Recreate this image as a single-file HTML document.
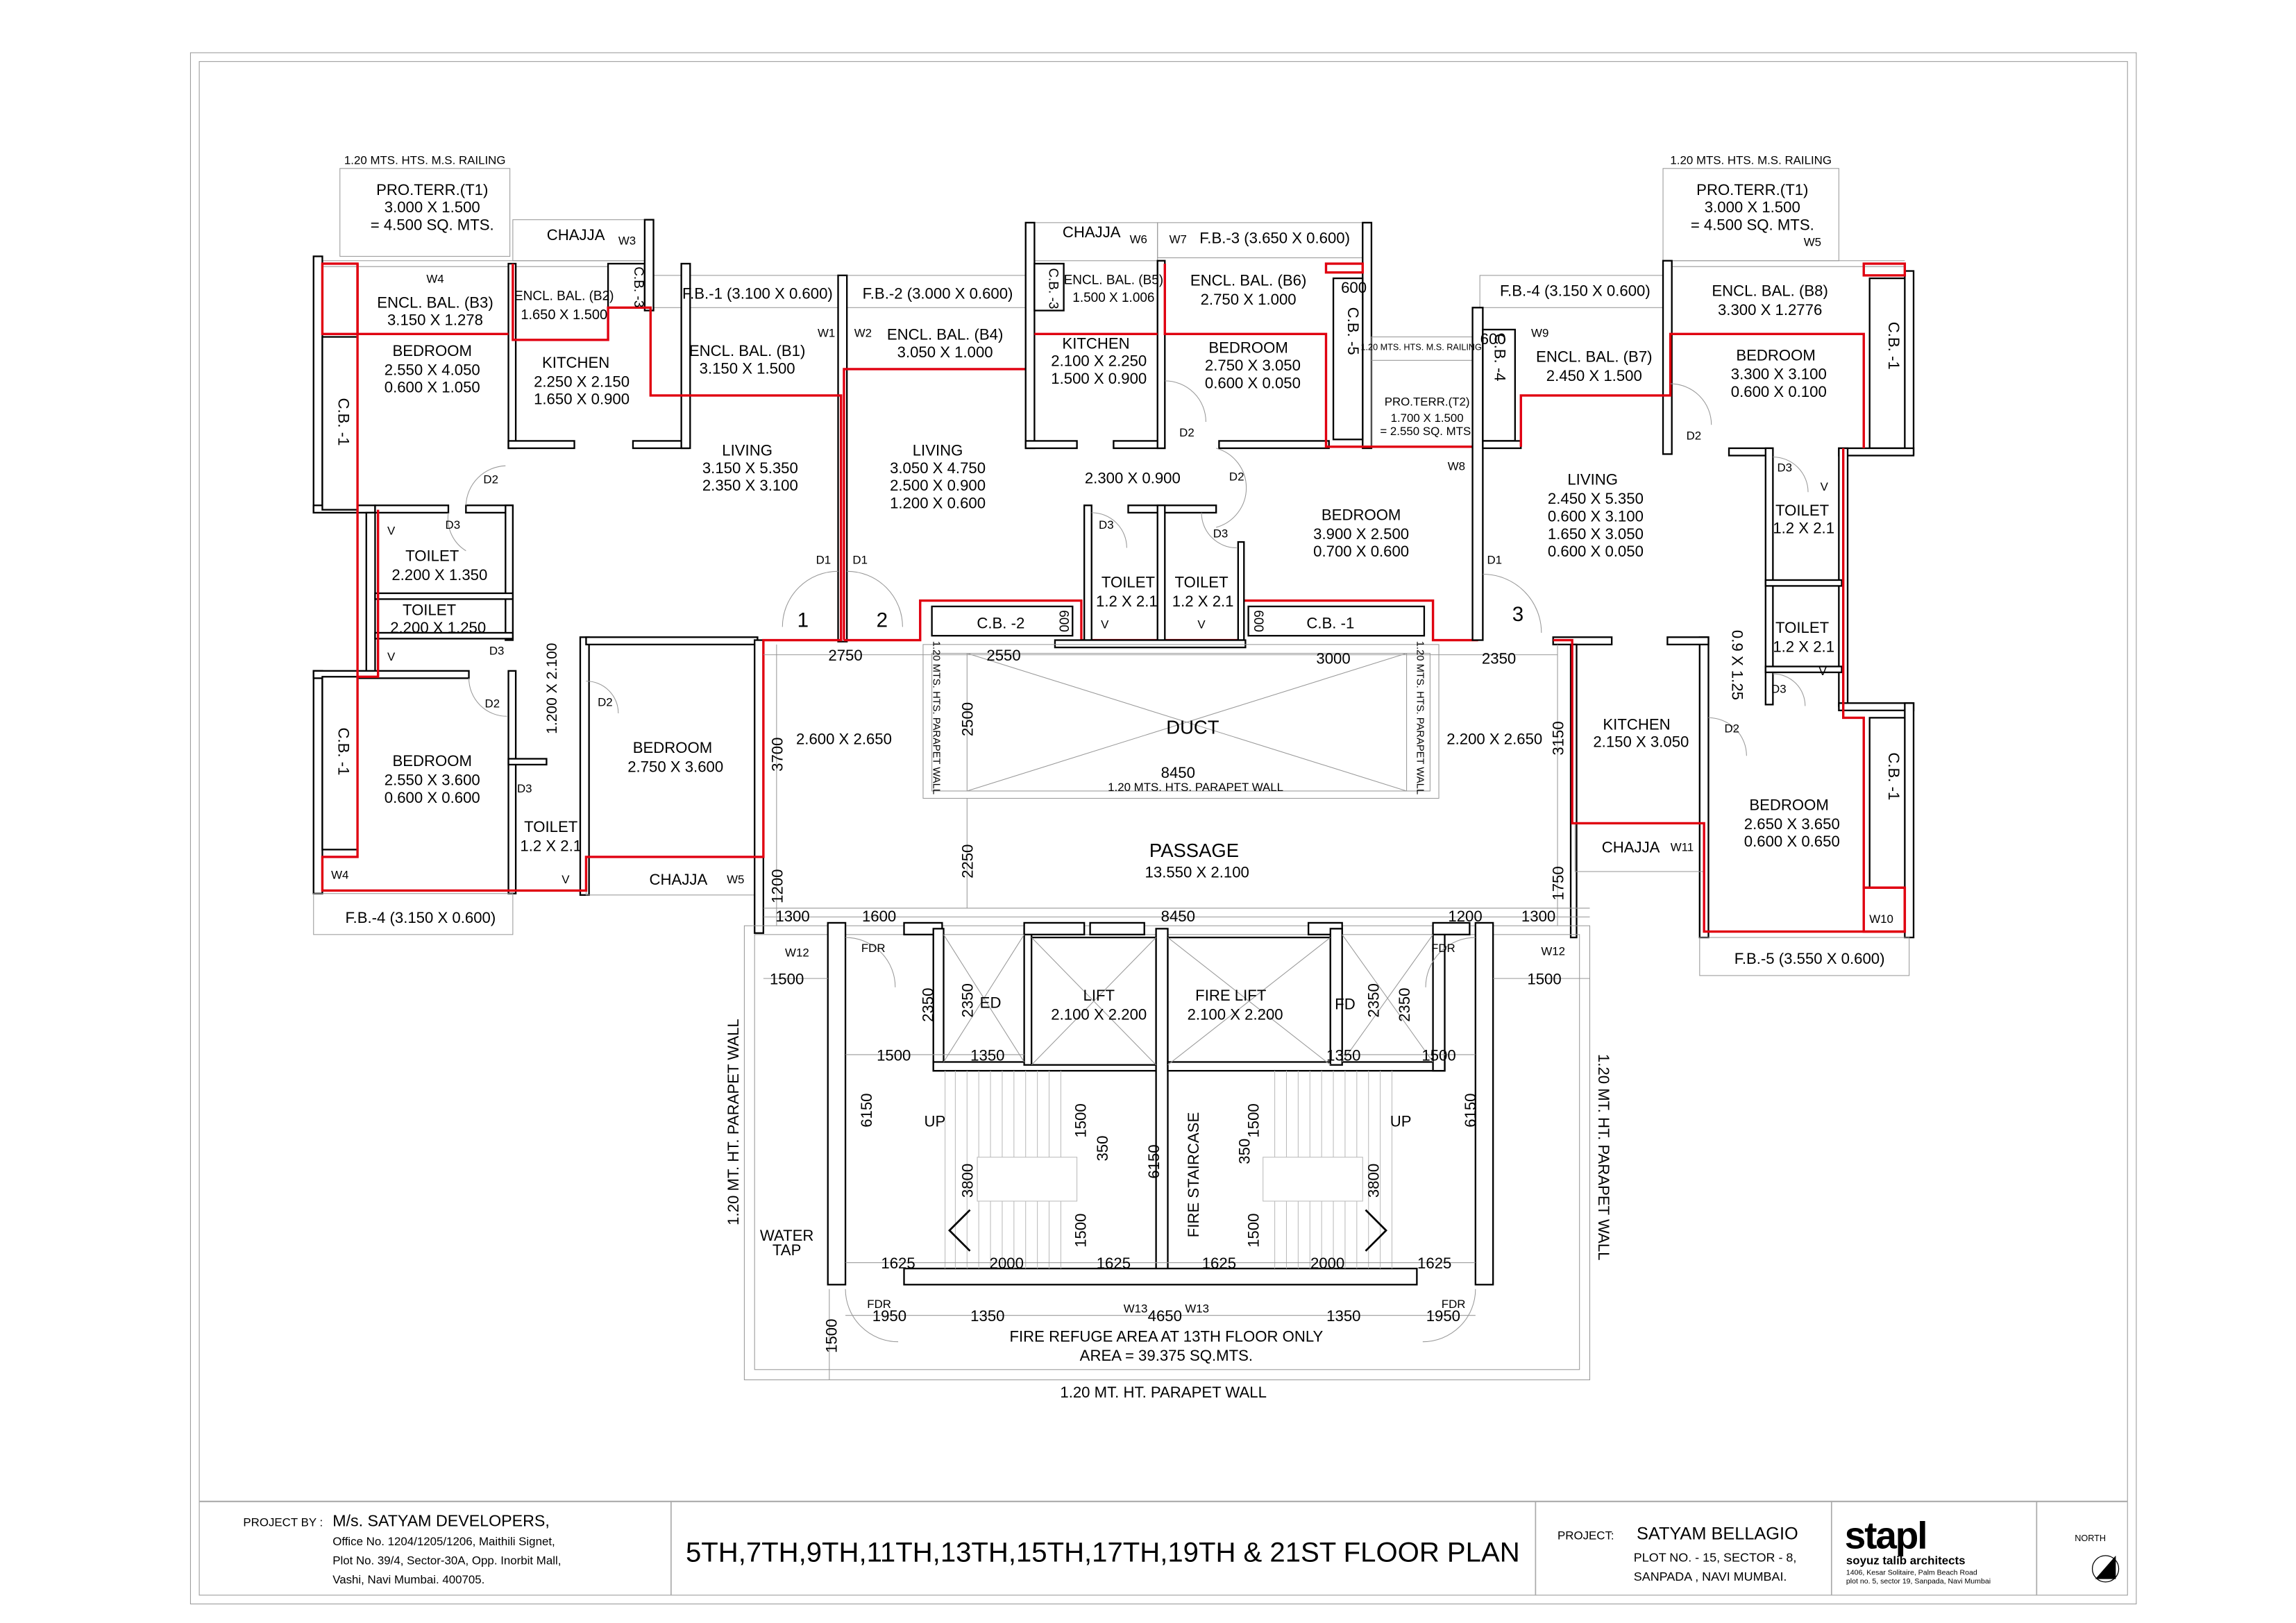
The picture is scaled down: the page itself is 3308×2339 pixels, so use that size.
<!DOCTYPE html>
<html><head><meta charset="utf-8"><style>
html,body{margin:0;padding:0;background:#fff;width:3308px;height:2339px;overflow:hidden}
svg{display:block}
text{font-family:"Liberation Sans Narrow","Liberation Sans",sans-serif;fill:#000}
.w{fill:#fff;stroke:#000;stroke-width:1.1}
.r{fill:none;stroke:#e00010;stroke-width:1.6}
.t{fill:none;stroke:#999;stroke-width:0.5}
.k{fill:none;stroke:#000;stroke-width:0.6}
.d{fill:none;stroke:#aaa;stroke-width:0.5;stroke-dasharray:3 2}
.c{fill:#fff;stroke:#888;stroke-width:0.5}
</style></head><body>
<svg width="3308" height="2339" viewBox="0 0 1567 1108" preserveAspectRatio="none">
<rect x="0" y="0" width="1600" height="1120" fill="#fff"/>
<!-- frames -->
<rect x="130" y="36" width="1328" height="1059" class="t" stroke="#bbb"/>
<rect x="136" y="42" width="1316" height="1047" class="t"/>
<line x1="136" y1="1025" x2="1452" y2="1025" stroke="#aaa" stroke-width="1"/>
<line x1="458" y1="1025" x2="458" y2="1089" stroke="#aaa" stroke-width="0.8"/>
<line x1="1048" y1="1025" x2="1048" y2="1089" stroke="#aaa" stroke-width="0.8"/>
<line x1="1250" y1="1025" x2="1250" y2="1089" stroke="#aaa" stroke-width="0.8"/>
<line x1="1390" y1="1025" x2="1390" y2="1089" stroke="#aaa" stroke-width="0.8"/>

<!-- ===== LEFT UNIT ===== -->
<rect x="232" y="115" width="116" height="60" class="t"/>
<rect x="350" y="150" width="90" height="28" class="t"/>
<rect x="446" y="188" width="130" height="22" class="t"/>
<rect x="578" y="188" width="122" height="22" class="t"/>
<line x1="220" y1="178" x2="446" y2="178" class="t"/><line x1="220" y1="182" x2="446" y2="182" class="t"/>
<rect x="214" y="175" width="6" height="175" class="w"/>
<rect x="214" y="345" width="42" height="5" class="w"/>
<rect x="250" y="350" width="6" height="112" class="w"/>
<rect x="214" y="458" width="6" height="152" class="w"/>
<rect x="214" y="458" width="106" height="5" class="w"/>
<rect x="220" y="230" width="24" height="118" class="w"/>
<rect x="220" y="462" width="24" height="118" class="w"/>
<rect x="256" y="345" width="50" height="5" class="w"/>
<rect x="318" y="345" width="32" height="5" class="w"/>
<rect x="345" y="345" width="5" height="92" class="w"/>
<rect x="256" y="405" width="94" height="4" class="w"/>
<rect x="256" y="432" width="94" height="4" class="w"/>
<rect x="347" y="458" width="5" height="152" class="w"/>
<rect x="347" y="518" width="26" height="4" class="w"/>
<rect x="396" y="435" width="6" height="176" class="w"/>
<rect x="400" y="435" width="117" height="5" class="w"/>
<rect x="347" y="180" width="5" height="126" class="w"/>
<rect x="347" y="301" width="45" height="5" class="w"/>
<rect x="432" y="301" width="38" height="5" class="w"/>
<rect x="465" y="180" width="6" height="126" class="w"/>
<rect x="415" y="180" width="25" height="30" class="w"/>
<rect x="440" y="150" width="6" height="62" class="w"/>
<rect x="572" y="188" width="6" height="250" class="w"/>
<rect x="214" y="610" width="136" height="28" class="t"/>
<rect x="400" y="585" width="117" height="26" class="t"/>
<rect x="515" y="437" width="6" height="200" class="w"/>
<!-- doors left -->
<path d="M345 318 A28 28 0 0 0 318 345" class="t"/><path d="M320 463 A26 26 0 0 0 346 489" class="t"/>
<path d="M306 350 A26 26 0 0 0 318 376" class="t"/><path d="M400 465 A22 22 0 0 1 422 487" class="t"/>
<path d="M572 390 A38 38 0 0 0 534 428" class="t"/><path d="M578 390 A38 38 0 0 1 616 428" class="t"/>
<!-- red left -->
<rect x="220" y="180" width="24" height="48" class="r"/>
<polyline points="244,180 244,462" class="r"/>
<polyline points="244,228 347,228" class="r"/>
<polyline points="350,180 350,232 415,232 415,210 444,210 444,270 574,270 574,437 521,437 521,585 400,585 400,608 220,608 220,585 244,585 244,462 258,462 258,348" class="r"/>
<polyline points="576,437 576,252 700,252" class="r"/>
<polyline points="576,437 628,437 628,410 738,410 738,437 848,437 848,410 978,410 978,437 1008,437 1008,305" class="r"/>

<!-- ===== MIDDLE TOP ===== -->
<rect x="700" y="152" width="90" height="26" class="t"/>
<rect x="790" y="152" width="140" height="24" class="t"/>
<rect x="700" y="152" width="6" height="154" class="w"/>
<rect x="706" y="180" width="20" height="32" class="w"/>
<rect x="700" y="301" width="35" height="5" class="w"/>
<rect x="760" y="301" width="35" height="5" class="w"/>
<rect x="790" y="178" width="5" height="128" class="w"/>
<rect x="832" y="301" width="75" height="5" class="w"/>
<rect x="930" y="152" width="6" height="154" class="w"/>
<rect x="910" y="190" width="20" height="110" class="w"/>
<rect x="740" y="345" width="5" height="92" class="w"/>
<rect x="770" y="345" width="60" height="5" class="w"/>
<rect x="790" y="345" width="5" height="92" class="w"/>
<rect x="845" y="370" width="4" height="67" class="w"/>
<rect x="720" y="437" width="130" height="5" class="w"/>
<rect x="636" y="414" width="96" height="20" class="w"/>
<rect x="852" y="414" width="120" height="20" class="w"/>
<rect x="936" y="230" width="70" height="75" class="t"/>
<line x1="936" y1="246" x2="1006" y2="246" class="t"/>
<polyline points="795,180 795,228 905,228 905,305 1008,305" class="r"/>
<polyline points="706,228 790,228" class="r"/>
<rect x="905" y="180" width="25" height="6" class="r"/>
<path d="M795 260 A28 28 0 0 1 823 288" class="t"/><path d="M830 306 A28 28 0 0 1 830 360" class="t"/>
<path d="M745 350 A24 24 0 0 1 769 374" class="t"/><path d="M820 350 A24 24 0 0 0 844 374" class="t"/>

<!-- ===== RIGHT UNIT ===== -->
<rect x="1135" y="115" width="120" height="63" class="t"/>
<rect x="1010" y="188" width="125" height="22" class="t"/>
<line x1="1140" y1="178" x2="1300" y2="178" class="t"/><line x1="1140" y1="182" x2="1300" y2="182" class="t"/>
<rect x="1005" y="210" width="7" height="227" class="w"/>
<rect x="1012" y="225" width="22" height="76" class="w"/>
<rect x="1012" y="301" width="26" height="5" class="w"/>
<rect x="1135" y="178" width="6" height="132" class="w"/>
<rect x="1300" y="185" width="6" height="125" class="w"/>
<rect x="1276" y="190" width="24" height="116" class="w"/>
<rect x="1255" y="306" width="51" height="5" class="w"/>
<rect x="1255" y="306" width="6" height="176" class="w"/>
<rect x="1180" y="306" width="30" height="5" class="w"/>
<rect x="1205" y="306" width="5" height="175" class="w"/>
<rect x="1205" y="396" width="52" height="4" class="w"/>
<rect x="1205" y="455" width="52" height="4" class="w"/>
<rect x="1255" y="480" width="51" height="5" class="w"/>
<rect x="1300" y="480" width="6" height="160" class="w"/>
<rect x="1276" y="490" width="24" height="116" class="w"/>
<rect x="1160" y="435" width="6" height="205" class="w"/>
<rect x="1138" y="435" width="28" height="5" class="w"/>
<rect x="1060" y="435" width="40" height="5" class="w"/>
<rect x="1072" y="440" width="4" height="200" class="w"/>
<rect x="1160" y="640" width="143" height="26" class="t"/>
<rect x="1075" y="562" width="88" height="33" class="t"/>
<polyline points="1038,305 1038,270 1140,270 1140,228 1272,228 1272,306" class="r"/>
<rect x="1272" y="180" width="28" height="8" class="r"/>
<polyline points="1258,306 1258,490 1272,490 1272,606 1300,606 1300,636 1163,636 1163,562 1073,562 1073,437 1060,437" class="r"/>
<rect x="1272" y="606" width="28" height="30" class="r"/>
<path d="M1140 262 A28 28 0 0 1 1168 290" class="t"/><path d="M1210 312 A24 24 0 0 1 1234 336" class="t"/>
<path d="M1012 392 A40 40 0 0 1 1052 432" class="t"/><path d="M1166 490 A26 26 0 0 1 1192 516" class="t"/>
<path d="M1210 460 A22 22 0 0 1 1232 482" class="t"/>

<!-- ===== DUCT / PASSAGE ===== -->
<rect x="630" y="440" width="352" height="105" class="t"/>
<rect x="636" y="446" width="340" height="94" class="t"/>
<line x1="660" y1="446" x2="960" y2="540" class="t"/><line x1="660" y1="540" x2="960" y2="446" class="t"/>
<line x1="660" y1="446" x2="660" y2="540" class="t"/><line x1="960" y1="446" x2="960" y2="540" class="t"/>
<line x1="1063" y1="440" x2="1063" y2="632" class="t"/>
<line x1="521" y1="620" x2="1085" y2="620" class="t"/>

<!-- ===== STAIRS ===== -->
<rect x="508" y="632" width="577" height="310" class="t"/>
<rect x="515" y="638" width="563" height="297" class="t"/>
<rect x="565" y="630" width="12" height="247" class="w"/>
<rect x="1007" y="630" width="12" height="247" class="w"/>
<rect x="617" y="630" width="26" height="8" class="w"/>
<rect x="637" y="634" width="7" height="97" class="w"/>
<rect x="637" y="725" width="152" height="6" class="w"/>
<rect x="699" y="634" width="5" height="93" class="w"/>
<rect x="699" y="630" width="41" height="8" class="w"/>
<rect x="704" y="640" width="85" height="87" class="w"/>
<rect x="744" y="630" width="37" height="8" class="w"/>
<rect x="789" y="634" width="8" height="233" class="w"/>
<rect x="797" y="640" width="111" height="87" class="w"/>
<rect x="797" y="725" width="189" height="6" class="w"/>
<rect x="893" y="630" width="23" height="8" class="w"/>
<rect x="908" y="634" width="8" height="93" class="w"/>
<rect x="978" y="634" width="8" height="97" class="w"/>
<rect x="978" y="630" width="25" height="8" class="w"/>
<rect x="617" y="866" width="350" height="11" class="w"/>
<g class="t">
<line x1="644" y1="638" x2="699" y2="725"/><line x1="699" y1="638" x2="644" y2="725"/>
<line x1="704" y1="640" x2="789" y2="727"/><line x1="789" y1="640" x2="704" y2="727"/>
<line x1="797" y1="640" x2="908" y2="727"/><line x1="908" y1="640" x2="797" y2="727"/>
<line x1="916" y1="638" x2="978" y2="725"/><line x1="978" y1="638" x2="916" y2="725"/>
</g>
<g stroke="#bbb" stroke-width="0.5">
<line x1="645" y1="731" x2="645" y2="866"/><line x1="652" y1="731" x2="652" y2="866"/><line x1="660" y1="731" x2="660" y2="866"/><line x1="668" y1="731" x2="668" y2="866"/><line x1="676" y1="731" x2="676" y2="866"/><line x1="684" y1="731" x2="684" y2="866"/><line x1="692" y1="731" x2="692" y2="866"/><line x1="700" y1="731" x2="700" y2="866"/><line x1="708" y1="731" x2="708" y2="866"/><line x1="716" y1="731" x2="716" y2="866"/><line x1="724" y1="731" x2="724" y2="866"/>
<line x1="870" y1="731" x2="870" y2="866"/><line x1="878" y1="731" x2="878" y2="866"/><line x1="886" y1="731" x2="886" y2="866"/><line x1="894" y1="731" x2="894" y2="866"/><line x1="902" y1="731" x2="902" y2="866"/><line x1="910" y1="731" x2="910" y2="866"/><line x1="918" y1="731" x2="918" y2="866"/><line x1="926" y1="731" x2="926" y2="866"/><line x1="934" y1="731" x2="934" y2="866"/><line x1="942" y1="731" x2="942" y2="866"/><line x1="950" y1="731" x2="950" y2="866"/>
</g>
<rect x="667" y="790" width="68" height="30" fill="#fff" stroke="#bbb" stroke-width="0.5"/>
<rect x="862" y="790" width="68" height="30" fill="#fff" stroke="#bbb" stroke-width="0.5"/>
<polyline points="662,826 648,840 662,854" fill="none" stroke="#000" stroke-width="1.3"/>
<polyline points="932,826 946,840 932,854" fill="none" stroke="#000" stroke-width="1.3"/>
<path d="M577 640 A34 34 0 0 1 611 674" class="t"/><path d="M1007 640 A34 34 0 0 0 973 674" class="t"/>
<path d="M577 880 A36 36 0 0 0 613 916" class="t"/><path d="M1007 880 A36 36 0 0 1 971 916" class="t"/>
<!-- dim lines -->
<g class="t">
<line x1="521" y1="447" x2="1063" y2="447"/><line x1="521" y1="626" x2="1085" y2="626"/>
<line x1="521" y1="668" x2="565" y2="668"/><line x1="1019" y1="668" x2="1085" y2="668"/>
<line x1="577" y1="720" x2="699" y2="720"/><line x1="916" y1="720" x2="1007" y2="720"/>
<line x1="577" y1="862" x2="1007" y2="862"/><line x1="577" y1="898" x2="1007" y2="898"/>
<line x1="660" y1="545" x2="660" y2="620"/><line x1="530" y1="440" x2="530" y2="632"/>
<line x1="566" y1="880" x2="566" y2="942"/>
</g>

<!-- ===== TEXT ===== -->
<g font-size="10.5" text-anchor="middle">
<text x="290" y="112" font-size="8">1.20 MTS. HTS. M.S. RAILING</text>
<text x="295" y="133">PRO.TERR.(T1)</text><text x="295" y="145">3.000 X 1.500</text><text x="295" y="157">= 4.500 SQ. MTS.</text>
<text x="393" y="164">CHAJJA</text><text x="428" y="167" font-size="8">W3</text>
<text x="297" y="193" font-size="8">W4</text>
<text x="297" y="210">ENCL. BAL. (B3)</text><text x="297" y="222">3.150 X 1.278</text>
<text x="385" y="205" font-size="9">ENCL. BAL. (B2)</text><text x="385" y="218" font-size="9.5">1.650 X 1.500</text>
<text x="433" y="196" font-size="9" transform="rotate(90 433 196)">C.B. -3</text>
<text x="517" y="204">F.B.-1 (3.100 X 0.600)</text><text x="640" y="204">F.B.-2 (3.000 X 0.600)</text>
<text x="564" y="230" font-size="8">W1</text><text x="589" y="230" font-size="8">W2</text>
<text x="295" y="243">BEDROOM</text><text x="295" y="256">2.550 X 4.050</text><text x="295" y="268">0.600 X 1.050</text>
<text x="393" y="251">KITCHEN</text><text x="397" y="264">2.250 X 2.150</text><text x="397" y="276">1.650 X 0.900</text>
<text x="510" y="243">ENCL. BAL. (B1)</text><text x="510" y="255">3.150 X 1.500</text>
<text x="645" y="232">ENCL. BAL. (B4)</text><text x="645" y="244">3.050 X 1.000</text>
<text x="231" y="288" transform="rotate(90 231 288)">C.B. -1</text>
<text x="335" y="330" font-size="8">D2</text>
<text x="510" y="311">LIVING</text><text x="512" y="323">3.150 X 5.350</text><text x="512" y="335">2.350 X 3.100</text>
<text x="640" y="311">LIVING</text><text x="640" y="323">3.050 X 4.750</text><text x="640" y="335">2.500 X 0.900</text><text x="640" y="347">1.200 X 0.600</text>
<text x="267" y="365" font-size="8">V</text><text x="309" y="361" font-size="8">D3</text>
<text x="295" y="383">TOILET</text><text x="300" y="396">2.200 X 1.350</text>
<text x="293" y="420">TOILET</text><text x="299" y="432">2.200 X 1.250</text>
<text x="267" y="451" font-size="8">V</text><text x="339" y="447" font-size="8">D3</text>
<text x="562" y="385" font-size="8">D1</text><text x="587" y="385" font-size="8">D1</text>
<text x="548" y="428" font-size="14">1</text><text x="602" y="428" font-size="14">2</text>
<text x="380" y="470" font-size="10" transform="rotate(-90 380 470)">1.200 X 2.100</text>
<text x="336" y="483" font-size="8">D2</text><text x="413" y="482" font-size="8">D2</text>
<text x="295" y="523">BEDROOM</text><text x="295" y="536">2.550 X 3.600</text><text x="295" y="548">0.600 X 0.600</text>
<text x="231" y="513" transform="rotate(90 231 513)">C.B. -1</text>
<text x="459" y="514">BEDROOM</text><text x="461" y="527">2.750 X 3.600</text>
<text x="358" y="541" font-size="8">D3</text>
<text x="376" y="568">TOILET</text><text x="376" y="581">1.2 X 2.1</text>
<text x="386" y="603" font-size="8">V</text><text x="232" y="600" font-size="8">W4</text>
<text x="463" y="604">CHAJJA</text><text x="502" y="603" font-size="8">W5</text>
<text x="287" y="630">F.B.-4 (3.150 X 0.600)</text>
<text x="577" y="451">2750</text><text x="685" y="451">2550</text><text x="910" y="453">3000</text><text x="1023" y="453">2350</text>
<text x="576" y="508">2.600 X 2.650</text>
<text x="534" y="515" transform="rotate(-90 534 515)">3700</text>
<text x="664" y="491" transform="rotate(-90 664 491)">2500</text>
<text x="637" y="490" font-size="7" transform="rotate(90 637 490)">1.20 MTS. HTS. PARAPET WALL</text>
<text x="967" y="490" font-size="7" transform="rotate(90 967 490)">1.20 MTS. HTS. PARAPET WALL</text>
<text x="814" y="501" font-size="13">DUCT</text>
<text x="804" y="531">8450</text><text x="816" y="540" font-size="8">1.20 MTS. HTS. PARAPET WALL</text>
<text x="1020" y="508">2.200 X 2.650</text>
<text x="1067" y="504" transform="rotate(-90 1067 504)">3150</text>
<text x="683" y="429">C.B. -2</text><text x="908" y="429">C.B. -1</text>
<text x="723" y="424" font-size="9" transform="rotate(90 723 424)">600</text>
<text x="856" y="424" font-size="9" transform="rotate(90 856 424)">600</text>
<text x="745" y="162">CHAJJA</text><text x="777" y="166" font-size="8">W6</text>
<text x="804" y="166" font-size="8">W7</text><text x="870" y="166">F.B.-3 (3.650 X 0.600)</text>
<text x="760" y="194" font-size="9">ENCL. BAL. (B5)</text><text x="760" y="206" font-size="9">1.500 X 1.006</text>
<text x="716" y="197" font-size="9" transform="rotate(90 716 197)">C.B. -3</text>
<text x="852" y="195">ENCL. BAL. (B6)</text><text x="852" y="208">2.750 X 1.000</text>
<text x="924" y="200">600</text>
<text x="748" y="238">KITCHEN</text><text x="750" y="250">2.100 X 2.250</text><text x="750" y="262">1.500 X 0.900</text>
<text x="852" y="241">BEDROOM</text><text x="855" y="253">2.750 X 3.050</text><text x="855" y="265">0.600 X 0.050</text>
<text x="920" y="226" transform="rotate(90 920 226)">C.B. -5</text>
<text x="970" y="239" font-size="6">1.20 MTS. HTS. M.S. RAILING</text>
<text x="974" y="277" font-size="8">PRO.TERR.(T2)</text><text x="974" y="288" font-size="8">1.700 X 1.500</text><text x="974" y="297" font-size="8">= 2.550 SQ. MTS.</text>
<text x="810" y="298" font-size="8">D2</text><text x="844" y="328" font-size="8">D2</text>
<text x="773" y="330">2.300 X 0.900</text>
<text x="994" y="321" font-size="8">W8</text>
<text x="755" y="361" font-size="8">D3</text><text x="833" y="367" font-size="8">D3</text>
<text x="929" y="355">BEDROOM</text><text x="929" y="368">3.900 X 2.500</text><text x="929" y="380">0.700 X 0.600</text>
<text x="770" y="401">TOILET</text><text x="769" y="414">1.2 X 2.1</text>
<text x="820" y="401">TOILET</text><text x="821" y="414">1.2 X 2.1</text>
<text x="754" y="429" font-size="8">V</text><text x="820" y="429" font-size="8">V</text>
<text x="1195" y="112" font-size="8">1.20 MTS. HTS. M.S. RAILING</text>
<text x="1196" y="133">PRO.TERR.(T1)</text><text x="1196" y="145">3.000 X 1.500</text><text x="1196" y="157">= 4.500 SQ. MTS.</text>
<text x="1237" y="168" font-size="8">W5</text>
<text x="1075" y="202">F.B.-4 (3.150 X 0.600)</text>
<text x="1208" y="202">ENCL. BAL. (B8)</text><text x="1208" y="215">3.300 X 1.2776</text>
<text x="1019" y="235">600</text><text x="1051" y="230" font-size="8">W9</text>
<text x="1088" y="247">ENCL. BAL. (B7)</text><text x="1088" y="260">2.450 X 1.500</text>
<text x="1020" y="244" transform="rotate(90 1020 244)">C.B. -4</text>
<text x="1212" y="246">BEDROOM</text><text x="1214" y="259">3.300 X 3.100</text><text x="1214" y="271">0.600 X 0.100</text>
<text x="1289" y="236" transform="rotate(90 1289 236)">C.B. -1</text>
<text x="1156" y="300" font-size="8">D2</text><text x="1218" y="322" font-size="8">D3</text><text x="1245" y="335" font-size="8">V</text>
<text x="1087" y="331">LIVING</text><text x="1089" y="344">2.450 X 5.350</text><text x="1089" y="356">0.600 X 3.100</text><text x="1089" y="368">1.650 X 3.050</text><text x="1089" y="380">0.600 X 0.050</text>
<text x="1230" y="352">TOILET</text><text x="1231" y="364">1.2 X 2.1</text>
<text x="1020" y="385" font-size="8">D1</text><text x="1036" y="424" font-size="14">3</text>
<text x="1230" y="432">TOILET</text><text x="1231" y="445">1.2 X 2.1</text>
<text x="1244" y="461" font-size="8">V</text><text x="1214" y="473" font-size="8">D3</text>
<text x="1182" y="454" transform="rotate(90 1182 454)">0.9 X 1.25</text>
<text x="1117" y="498">KITCHEN</text><text x="1120" y="510">2.150 X 3.050</text>
<text x="1182" y="500" font-size="8">D2</text>
<text x="1221" y="553">BEDROOM</text><text x="1223" y="566">2.650 X 3.650</text><text x="1223" y="578">0.600 X 0.650</text>
<text x="1289" y="530" transform="rotate(90 1289 530)">C.B. -1</text>
<text x="1113" y="582">CHAJJA</text><text x="1148" y="581" font-size="8">W11</text>
<text x="1284" y="630" font-size="8">W10</text>
<text x="1235" y="658">F.B.-5 (3.550 X 0.600)</text>
<text x="815" y="585" font-size="13">PASSAGE</text><text x="817" y="599">13.550 X 2.100</text>
<text x="664" y="588" transform="rotate(-90 664 588)">2250</text>
<text x="534" y="605" transform="rotate(-90 534 605)">1200</text>
<text x="1067" y="603" transform="rotate(-90 1067 603)">1750</text>
<text x="541" y="629">1300</text><text x="600" y="629">1600</text><text x="804" y="629">8450</text><text x="1000" y="629">1200</text><text x="1050" y="629">1300</text>
<text x="544" y="653" font-size="8">W12</text><text x="596" y="650" font-size="8">FDR</text>
<text x="985" y="650" font-size="8">FDR</text><text x="1060" y="652" font-size="8">W12</text>
<text x="537" y="672">1500</text><text x="1054" y="672">1500</text>
<text x="637" y="686" transform="rotate(-90 637 686)">2350</text><text x="664" y="683" transform="rotate(-90 664 683)">2350</text>
<text x="676" y="688">ED</text><text x="918" y="689">FD</text>
<text x="941" y="683" transform="rotate(-90 941 683)">2350</text><text x="962" y="686" transform="rotate(-90 962 686)">2350</text>
<text x="750" y="683">LIFT</text><text x="750" y="696">2.100 X 2.200</text>
<text x="840" y="683">FIRE LIFT</text><text x="843" y="696">2.100 X 2.200</text>
<text x="610" y="724">1500</text><text x="674" y="724">1350</text><text x="917" y="724">1350</text><text x="982" y="724">1500</text>
<text x="504" y="766" transform="rotate(-90 504 766)">1.20 MT. HT. PARAPET WALL</text>
<text x="1091" y="790" transform="rotate(90 1091 790)">1.20 MT. HT. PARAPET WALL</text>
<text x="595" y="758" transform="rotate(-90 595 758)">6150</text>
<text x="1007" y="758" transform="rotate(-90 1007 758)">6150</text>
<text x="791" y="793" transform="rotate(-90 791 793)">6150</text>
<text x="818" y="802" transform="rotate(-90 818 802)">FIRE STAIRCASE</text>
<text x="638" y="769">UP</text><text x="956" y="769">UP</text>
<text x="741" y="765" transform="rotate(-90 741 765)">1500</text><text x="859" y="765" transform="rotate(-90 859 765)">1500</text>
<text x="756" y="784" transform="rotate(-90 756 784)">350</text><text x="853" y="786" transform="rotate(-90 853 786)">350</text>
<text x="664" y="806" transform="rotate(-90 664 806)">3800</text><text x="941" y="806" transform="rotate(-90 941 806)">3800</text>
<text x="741" y="840" transform="rotate(-90 741 840)">1500</text><text x="859" y="840" transform="rotate(-90 859 840)">1500</text>
<text x="537" y="847">WATER</text><text x="537" y="857">TAP</text>
<text x="613" y="866">1625</text><text x="687" y="866">2000</text><text x="760" y="866">1625</text>
<text x="832" y="866">1625</text><text x="906" y="866">2000</text><text x="979" y="866">1625</text>
<text x="600" y="893" font-size="8">FDR</text><text x="992" y="893" font-size="8">FDR</text>
<text x="607" y="902">1950</text><text x="674" y="902">1350</text><text x="775" y="896" font-size="8">W13</text><text x="795" y="902">4650</text><text x="817" y="896" font-size="8">W13</text><text x="917" y="902">1350</text><text x="985" y="902">1950</text>
<text x="796" y="916">FIRE REFUGE AREA AT 13TH FLOOR ONLY</text>
<text x="796" y="929">AREA = 39.375 SQ.MTS.</text>
<text x="571" y="912" transform="rotate(-90 571 912)">1500</text>
<text x="794" y="954">1.20 MT. HT. PARAPET WALL</text>
</g>
<!-- title block -->
<g text-anchor="start">
<text x="166" y="1042" font-size="8">PROJECT BY :</text>
<text x="227" y="1042" font-size="11">M/s. SATYAM DEVELOPERS,</text>
<text x="227" y="1055" font-size="8">Office No. 1204/1205/1206, Maithili Signet,</text>
<text x="227" y="1068" font-size="8">Plot No. 39/4, Sector-30A, Opp. Inorbit Mall,</text>
<text x="227" y="1081" font-size="8">Vashi, Navi Mumbai. 400705.</text>
<text x="468" y="1066" font-size="19">5TH,7TH,9TH,11TH,13TH,15TH,17TH,19TH &amp; 21ST FLOOR PLAN</text>
<text x="1063" y="1051" font-size="8">PROJECT:</text>
<text x="1117" y="1051" font-size="12">SATYAM BELLAGIO</text>
<text x="1115" y="1066" font-size="8.5">PLOT NO. - 15, SECTOR - 8,</text>
<text x="1115" y="1079" font-size="8.5">SANPADA , NAVI MUMBAI.</text>
<text x="1259" y="1057" font-size="26" font-weight="bold" letter-spacing="-1">stapl</text>
<text x="1260" y="1068" font-size="8" font-weight="bold">soyuz  talib  architects</text>
<text x="1260" y="1075" font-size="5">1406, Kesar Solitaire, Palm Beach Road</text>
<text x="1260" y="1081" font-size="5">plot no. 5, sector 19, Sanpada, Navi Mumbai</text>
<text x="1416" y="1052" font-size="6">NORTH</text>
</g>
<circle cx="1437" cy="1071" r="9" fill="none" stroke="#000" stroke-width="0.6"/>
<polygon points="1430,1078 1444,1062 1444,1078" fill="#000"/>
</svg>
</body></html>
